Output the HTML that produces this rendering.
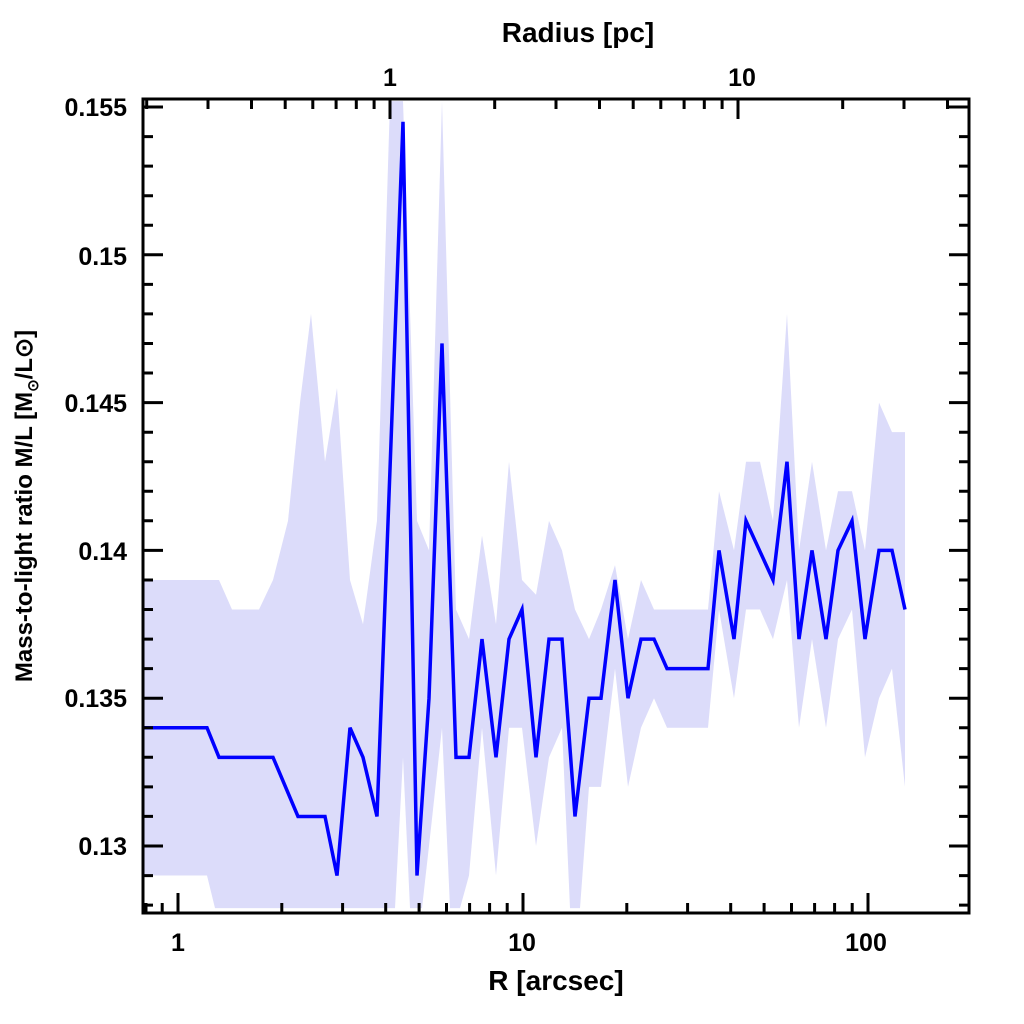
<!DOCTYPE html>
<html><head><meta charset="utf-8"><style>
html,body{margin:0;padding:0;background:#fff;overflow:hidden;width:1024px;height:1024px;}
svg{display:block;}
svg text{font-family:"Liberation Sans",sans-serif;font-weight:bold;fill:#000;}
</style></head><body>
<svg width="1024" height="1024" viewBox="0 0 1024 1024" xmlns="http://www.w3.org/2000/svg">
<g transform="matrix(1,0,0,-29560,0,4688.8)">
<polygon fill="#dcdcfa" points="
144,0.139 219,0.139 232,0.138 259,0.138 273,0.139 288,0.141 300,0.145 311,0.148 325,0.143 337,0.1455 350,0.139 363,0.1375 377,0.141 390,0.1552 403,0.1552 417,0.141 429,0.140 442,0.1552 456,0.138 469,0.137 482,0.1405 496,0.1375 509,0.143 522,0.139 536,0.1385 549,0.141 562,0.140 575,0.138 589,0.137 601,0.138 615,0.1395 628,0.137 641,0.139 654,0.138 667,0.138 708,0.138 719,0.142 734,0.140 746,0.143 760,0.143 773,0.141 787,0.148 799,0.140 812,0.143 826,0.140 838,0.142 852,0.142 865,0.140 879,0.145 892,0.144 905,0.144
905,0.132 892,0.136 879,0.135 865,0.133 852,0.138 838,0.137 826,0.134 812,0.137 799,0.134 787,0.139 773,0.137 760,0.138 746,0.138 734,0.135 719,0.138 708,0.134 667,0.134 654,0.135 641,0.134 628,0.132 615,0.136 601,0.132 589,0.132 580,0.1279 570,0.1279 562,0.134 549,0.133 536,0.130 522,0.134 509,0.134 496,0.129 482,0.134 469,0.129 460,0.1279 450,0.1279 442,0.134 429,0.130 422,0.1279 410,0.1279 403,0.133 395,0.1279 360,0.1279 350,0.1279 340,0.1279 290,0.1279 285,0.1279 215,0.1279 207,0.129 144,0.129"/>
<polyline fill="none" stroke="#0000ff" stroke-width="3.5" vector-effect="non-scaling-stroke" points="
144,0.134 207,0.134 219,0.133 273,0.133 298,0.131 325,0.131 337,0.129 350,0.134 363,0.133 377,0.131 403,0.1545 417,0.129 429,0.135 442,0.147 456,0.133 469,0.133 482,0.137 496,0.133 509,0.137 522,0.138 536,0.133 549,0.137 562,0.137 575,0.131 589,0.135 601,0.135 615,0.139 628,0.135 641,0.137 654,0.137 667,0.136 708,0.136 719,0.140 734,0.137 746,0.141 773,0.139 787,0.143 799,0.137 812,0.140 826,0.137 838,0.140 852,0.141 865,0.137 879,0.140 892,0.140 905,0.138"/>
</g>
<rect x="143" y="99" width="826" height="814" fill="none" stroke="#000" stroke-width="3"/>
<path fill="none" stroke="#000" stroke-width="3" d="
M143,905.1h10M143,875.6h10M143,846h20M143,816.4h10M143,786.9h10M143,757.3h10M143,727.8h10M143,698.2h20M143,668.6h10M143,639.1h10M143,609.5h10M143,580h10M143,550.4h20M143,520.8h10M143,491.3h10M143,461.7h10M143,432.2h10M143,402.6h20M143,373h10M143,343.5h10M143,313.9h10M143,284.4h10M143,254.8h20M143,225.2h10M143,195.7h10M143,166.1h10M143,136.6h10M143,107h20
M969,905.1h-10M969,875.6h-10M969,846h-20M969,816.4h-10M969,786.9h-10M969,757.3h-10M969,727.8h-10M969,698.2h-20M969,668.6h-10M969,639.1h-10M969,609.5h-10M969,580h-10M969,550.4h-20M969,520.8h-10M969,491.3h-10M969,461.7h-10M969,432.2h-10M969,402.6h-20M969,373h-10M969,343.5h-10M969,313.9h-10M969,284.4h-10M969,254.8h-20M969,225.2h-10M969,195.7h-10M969,166.1h-10M969,136.6h-10M969,107h-20
M146,913v-10M162.2,913v-10M178,913v-20M281.8,913v-10M342.6,913v-10M385.7,913v-10M419.1,913v-10M446.5,913v-10M469.6,913v-10M489.6,913v-10M507.2,913v-10M523,913v-20M626.8,913v-10M687.6,913v-10M730.7,913v-10M764.1,913v-10M791.5,913v-10M814.6,913v-10M834.6,913v-10M852.2,913v-10M868,913v-20
M146.7,99v10M208,99v10M251.5,99v10M285.2,99v10M312.8,99v10M336.1,99v10M356.3,99v10M374.1,99v10M390,99v20M494.7,99v10M556,99v10M599.5,99v10M633.2,99v10M660.8,99v10M684.1,99v10M704.3,99v10M722.1,99v10M738,99v20M842.7,99v10M904,99v10M947.5,99v10"/>
<g font-size="25" text-anchor="end">
<text x="127" y="116">0.155</text>
<text x="127" y="265">0.15</text>
<text x="127" y="412">0.145</text>
<text x="127" y="560">0.14</text>
<text x="127" y="707">0.135</text>
<text x="127" y="855">0.13</text>
</g>
<g font-size="25" text-anchor="middle">
<text x="178" y="951">1</text>
<text x="522" y="951">10</text>
<text x="866" y="951">100</text>
<text x="390" y="86">1</text>
<text x="742" y="86">10</text>
<text x="556" y="990" font-size="28">R [arcsec]</text>
<text x="578" y="42" font-size="28">Radius [pc]</text>
<text transform="translate(32,506) rotate(-90)" font-size="24">Mass-to-light ratio M/L [M<tspan font-size="15" dy="6">⊙</tspan><tspan dy="-6">/L⊙]</tspan></text>
</g>
</svg>
</body></html>
